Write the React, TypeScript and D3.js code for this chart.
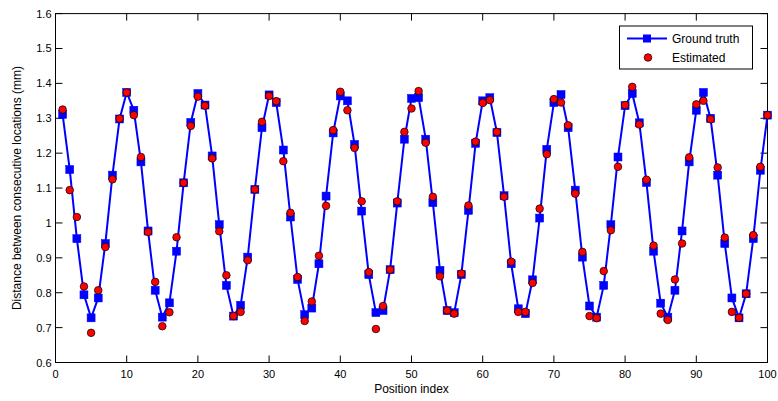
import React from "react";
import * as d3 from "d3";

const positions: number[] = d3.range(1, 101);

const groundTruth: number[] = [
  1.311, 1.153, 0.955, 0.794, 0.728, 0.785, 0.941, 1.137, 1.298, 1.374,
  1.323, 1.175, 0.977, 0.807, 0.730, 0.771, 0.919, 1.115, 1.288, 1.371,
  1.338, 1.192, 0.995, 0.821, 0.733, 0.764, 0.902, 1.096, 1.273, 1.367,
  1.345, 1.209, 1.017, 0.838, 0.737, 0.756, 0.883, 1.077, 1.258, 1.364,
  1.350, 1.225, 1.034, 0.852, 0.743, 0.749, 0.866, 1.057, 1.240, 1.357,
  1.359, 1.240, 1.058, 0.864, 0.749, 0.743, 0.852, 1.036, 1.228, 1.350,
  1.359, 1.259, 1.078, 0.883, 0.754, 0.740, 0.837, 1.014, 1.211, 1.345,
  1.368, 1.273, 1.094, 0.902, 0.762, 0.730, 0.821, 0.995, 1.189, 1.336,
  1.371, 1.287, 1.116, 0.919, 0.770, 0.730, 0.807, 0.977, 1.175, 1.323,
  1.374, 1.300, 1.137, 0.941, 0.785, 0.728, 0.797, 0.955, 1.151, 1.309,
];

const estimated: number[] = [
  1.325, 1.094, 1.017, 0.818, 0.685, 0.807, 0.931, 1.125, 1.299, 1.374,
  1.309, 1.189, 0.974, 0.831, 0.704, 0.744, 0.959, 1.115, 1.278, 1.362,
  1.336, 1.185, 0.976, 0.850, 0.733, 0.745, 0.893, 1.096, 1.290, 1.364,
  1.349, 1.177, 1.029, 0.845, 0.719, 0.775, 0.906, 1.049, 1.266, 1.376,
  1.323, 1.215, 1.062, 0.859, 0.696, 0.762, 0.866, 1.062, 1.261, 1.328,
  1.378, 1.230, 1.075, 0.847, 0.749, 0.740, 0.855, 1.050, 1.233, 1.344,
  1.352, 1.261, 1.075, 0.889, 0.745, 0.745, 0.828, 1.041, 1.197, 1.355,
  1.345, 1.280, 1.084, 0.917, 0.733, 0.727, 0.862, 0.979, 1.161, 1.338,
  1.390, 1.282, 1.124, 0.935, 0.740, 0.722, 0.838, 0.941, 1.188, 1.340,
  1.350, 1.297, 1.159, 0.958, 0.745, 0.728, 0.797, 0.965, 1.161, 1.309,
];

const xTicks: number[] = [0, 10, 20, 30, 40, 50, 60, 70, 80, 90, 100];
const yTicks: number[] = [0.6, 0.7, 0.8, 0.9, 1, 1.1, 1.2, 1.3, 1.4, 1.5, 1.6];

const W = 778;
const H = 401;
const left = 55.5;
const right = 767.5;
const top = 13.6;
const bottom = 362.5;
const FONT = "Liberation Sans, Arial, sans-serif";
const TL = 7;

export default function App() {
  const x = d3.scaleLinear().domain([0, 100]).range([left, right]);
  const y = d3.scaleLinear().domain([0.6, 1.6]).range([bottom, top]);
  const line = d3
    .line<number>()
    .x((_, i) => x(positions[i]))
    .y((d) => y(d));

  return (
    <svg
      width={W}
      height={H}
      style={{ position: "absolute", left: 0, top: 0, background: "#fff" }}
      fontFamily={FONT}
    >
      <rect x={0} y={0} width={W} height={H} fill="#fff" />
      {/* ticks */}
      {xTicks.map((t) => (
        <g key={"xt" + t}>
          <line x1={x(t)} x2={x(t)} y1={bottom} y2={bottom - TL} stroke="#000" strokeWidth={1} />
          <line x1={x(t)} x2={x(t)} y1={top} y2={top + TL} stroke="#000" strokeWidth={1} />
          <text x={x(t)} y={bottom + 15} fontSize={11} textAnchor="middle" fill="#000">
            {t}
          </text>
        </g>
      ))}
      {yTicks.map((t) => (
        <g key={"yt" + t}>
          <line x1={left} x2={left + TL} y1={y(t)} y2={y(t)} stroke="#000" strokeWidth={1} />
          <line x1={right} x2={right - TL} y1={y(t)} y2={y(t)} stroke="#000" strokeWidth={1} />
          <text x={left - 4} y={y(t) + 4} fontSize={11} textAnchor="end" fill="#000">
            {d3.format("~g")(t)}
          </text>
        </g>
      ))}
      <rect
        x={left}
        y={top}
        width={right - left}
        height={bottom - top}
        fill="none"
        stroke="#000"
        strokeWidth={1}
      />
      {/* ground truth */}
      <path d={line(groundTruth) || ""} fill="none" stroke="#0000ff" strokeWidth={2} />
      {groundTruth.map((v, i) => (
        <rect
          key={"gs" + i}
          x={x(positions[i]) - 4}
          y={y(v) - 4}
          width={8}
          height={8}
          fill="#0000ff"
          stroke="#0000ff"
          strokeWidth={0.5}
        />
      ))}
      {estimated.map((v, i) => (
        <circle
          key={"ec" + i}
          cx={x(positions[i])}
          cy={y(v)}
          r={3.8}
          fill="#ff0000"
          stroke="#000"
          strokeWidth={0.7}
        />
      ))}
      {/* legend */}
      <g>
        <rect x={619.5} y={26} width={133} height={43} fill="#fff" stroke="#000" strokeWidth={1} />
        <line x1={627} x2={667} y1={38.5} y2={38.5} stroke="#0000ff" strokeWidth={2} />
        <rect x={643} y={34.5} width={8} height={8} fill="#0000ff" />
        <text x={672} y={42.5} fontSize={12} fill="#000">
          Ground truth
        </text>
        <circle cx={648} cy={57.5} r={3.8} fill="#ff0000" stroke="#000" strokeWidth={0.7} />
        <text x={672} y={61.5} fontSize={12} fill="#000">
          Estimated
        </text>
      </g>
      {/* axis labels */}
      <text x={(left + right) / 2} y={393} fontSize={12} textAnchor="middle" fill="#000">
        Position index
      </text>
      <text
        transform={`translate(21, ${(top + bottom) / 2}) rotate(-90)`}
        fontSize={12}
        textAnchor="middle"
        fill="#000"
      >
        Distance between consecutive locations (mm)
      </text>
    </svg>
  );
}
